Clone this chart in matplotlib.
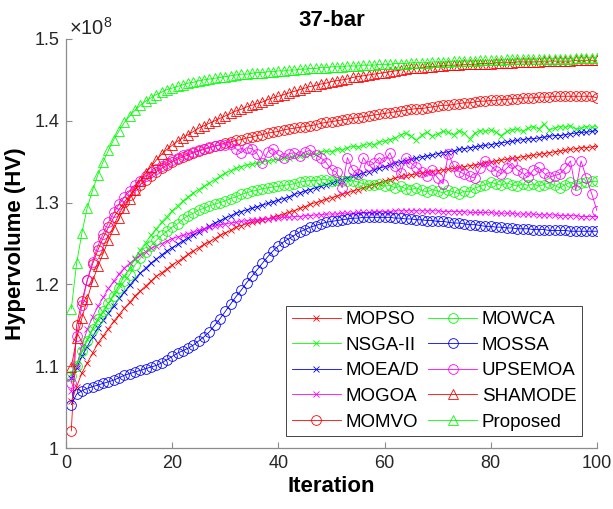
import matplotlib.pyplot as plt
from matplotlib.ticker import FuncFormatter
import numpy as np

plt.rcParams['font.family'] = ['Liberation Sans', 'DejaVu Sans']
plt.rcParams['mathtext.fontset'] = 'custom'
plt.rcParams['mathtext.rm'] = 'Liberation Sans'

# hypervolume per iteration, in units of 1e8
iteration = np.arange(1, 101)

mopso = [1.057, 1.075, 1.092, 1.104, 1.116, 1.128, 1.137, 1.146, 1.155, 1.163,
         1.171, 1.178, 1.186, 1.192, 1.198, 1.204, 1.210, 1.214, 1.219, 1.224,
         1.228, 1.232, 1.237, 1.241, 1.245, 1.249, 1.252, 1.256, 1.260, 1.263,
         1.266, 1.270, 1.272, 1.274, 1.276, 1.277, 1.279, 1.280, 1.282, 1.284,
         1.286, 1.288, 1.290, 1.293, 1.295, 1.298, 1.300, 1.302, 1.304, 1.306,
         1.308, 1.310, 1.312, 1.314, 1.316, 1.318, 1.320, 1.322, 1.324, 1.326,
         1.328, 1.330, 1.332, 1.333, 1.334, 1.335, 1.336, 1.337, 1.338, 1.339,
         1.340, 1.341, 1.342, 1.343, 1.344, 1.345, 1.346, 1.347, 1.349, 1.350,
         1.351, 1.352, 1.353, 1.354, 1.355, 1.356, 1.357, 1.358, 1.359, 1.360,
         1.361, 1.362, 1.363, 1.364, 1.365, 1.366, 1.367, 1.367, 1.368, 1.369]

nsga2 = [1.090, 1.103, 1.118, 1.133, 1.146, 1.157, 1.166, 1.177, 1.188, 1.199,
         1.210, 1.220, 1.232, 1.242, 1.251, 1.260, 1.268, 1.276, 1.283, 1.290,
         1.296, 1.302, 1.307, 1.312, 1.316, 1.320, 1.324, 1.328, 1.332, 1.336,
         1.339, 1.342, 1.344, 1.346, 1.347, 1.348, 1.350, 1.351, 1.352, 1.353,
         1.354, 1.355, 1.357, 1.357, 1.358, 1.360, 1.359, 1.362, 1.363, 1.362,
         1.366, 1.364, 1.367, 1.369, 1.368, 1.370, 1.372, 1.371, 1.374, 1.375,
         1.377, 1.379, 1.383, 1.385, 1.381, 1.376, 1.383, 1.386, 1.381, 1.384,
         1.387, 1.386, 1.383, 1.388, 1.385, 1.378, 1.385, 1.388, 1.387, 1.389,
         1.386, 1.382, 1.387, 1.389, 1.390, 1.387, 1.391, 1.393, 1.390, 1.396,
         1.389, 1.391, 1.393, 1.392, 1.394, 1.390, 1.391, 1.393, 1.392, 1.393]

moead = [1.085, 1.098, 1.112, 1.124, 1.136, 1.147, 1.156, 1.165, 1.174, 1.183,
         1.191, 1.199, 1.207, 1.214, 1.220, 1.226, 1.231, 1.236, 1.241, 1.245,
         1.249, 1.253, 1.257, 1.261, 1.264, 1.268, 1.271, 1.275, 1.278, 1.281,
         1.284, 1.287, 1.289, 1.291, 1.293, 1.295, 1.297, 1.299, 1.301, 1.303,
         1.305, 1.307, 1.310, 1.312, 1.314, 1.316, 1.318, 1.320, 1.322, 1.324,
         1.326, 1.328, 1.330, 1.332, 1.334, 1.336, 1.338, 1.340, 1.342, 1.344,
         1.346, 1.348, 1.350, 1.351, 1.353, 1.354, 1.356, 1.357, 1.358, 1.360,
         1.361, 1.362, 1.363, 1.365, 1.366, 1.367, 1.368, 1.369, 1.370, 1.371,
         1.372, 1.373, 1.374, 1.375, 1.376, 1.377, 1.378, 1.378, 1.379, 1.380,
         1.381, 1.382, 1.382, 1.383, 1.384, 1.385, 1.386, 1.386, 1.387, 1.388]

mogoa = [1.070, 1.100, 1.125, 1.145, 1.160, 1.173, 1.184, 1.195, 1.204, 1.213,
         1.220, 1.226, 1.231, 1.236, 1.240, 1.244, 1.247, 1.250, 1.253, 1.256,
         1.258, 1.260, 1.262, 1.264, 1.266, 1.268, 1.270, 1.271, 1.273, 1.274,
         1.275, 1.276, 1.277, 1.278, 1.279, 1.279, 1.280, 1.280, 1.281, 1.281,
         1.282, 1.282, 1.283, 1.283, 1.284, 1.284, 1.285, 1.285, 1.286, 1.286,
         1.286, 1.287, 1.287, 1.287, 1.288, 1.288, 1.288, 1.289, 1.289, 1.289,
         1.289, 1.290, 1.290, 1.290, 1.290, 1.290, 1.290, 1.290, 1.290, 1.290,
         1.289, 1.289, 1.289, 1.289, 1.289, 1.288, 1.288, 1.288, 1.288, 1.288,
         1.287, 1.287, 1.287, 1.287, 1.286, 1.286, 1.286, 1.286, 1.285, 1.285,
         1.285, 1.285, 1.284, 1.284, 1.284, 1.284, 1.283, 1.283, 1.283, 1.283]

momvo = [1.021, 1.150, 1.180, 1.205, 1.225, 1.242, 1.257, 1.270, 1.282, 1.292,
         1.301, 1.309, 1.316, 1.322, 1.328, 1.333, 1.338, 1.342, 1.346, 1.350,
         1.353, 1.356, 1.358, 1.361, 1.363, 1.365, 1.367, 1.369, 1.371, 1.373,
         1.374, 1.376, 1.377, 1.379, 1.380, 1.382, 1.383, 1.385, 1.386, 1.387,
         1.389, 1.390, 1.391, 1.392, 1.393, 1.394, 1.395, 1.397, 1.398, 1.399,
         1.400, 1.401, 1.402, 1.403, 1.404, 1.405, 1.406, 1.407, 1.408, 1.409,
         1.410, 1.411, 1.412, 1.413, 1.414, 1.415, 1.415, 1.416, 1.417, 1.418,
         1.419, 1.419, 1.420, 1.421, 1.422, 1.422, 1.423, 1.424, 1.424, 1.425,
         1.425, 1.426, 1.426, 1.427, 1.427, 1.428, 1.428, 1.428, 1.429, 1.429,
         1.429, 1.430, 1.430, 1.430, 1.430, 1.430, 1.430, 1.430, 1.430, 1.428]

mowca = [1.088, 1.100, 1.118, 1.131, 1.145, 1.158, 1.168, 1.177, 1.186, 1.195,
         1.204, 1.212, 1.224, 1.232, 1.240, 1.247, 1.254, 1.260, 1.265, 1.270,
         1.274, 1.280, 1.284, 1.287, 1.291, 1.293, 1.296, 1.298, 1.300, 1.302,
         1.305, 1.307, 1.310, 1.312, 1.314, 1.315, 1.317, 1.318, 1.319, 1.320,
         1.321, 1.322, 1.323, 1.325, 1.326, 1.327, 1.327, 1.328, 1.328, 1.327,
         1.328, 1.327, 1.326, 1.327, 1.325, 1.323, 1.322, 1.321, 1.323, 1.320,
         1.321, 1.318, 1.320, 1.317, 1.316, 1.318, 1.315, 1.313, 1.316, 1.314,
         1.312, 1.315, 1.313, 1.311, 1.314, 1.313, 1.318, 1.320, 1.322, 1.325,
         1.323, 1.321, 1.324, 1.322, 1.320, 1.323, 1.321, 1.323, 1.320, 1.322,
         1.324, 1.321, 1.318, 1.322, 1.325, 1.322, 1.324, 1.325, 1.326, 1.326]

mossa = [1.053, 1.066, 1.070, 1.073, 1.075, 1.077, 1.079, 1.081, 1.083, 1.086,
         1.089, 1.091, 1.093, 1.095, 1.097, 1.099, 1.101, 1.104, 1.108, 1.112,
         1.116, 1.119, 1.122, 1.126, 1.131, 1.136, 1.142, 1.150, 1.158, 1.167,
         1.176, 1.185, 1.193, 1.202, 1.210, 1.218, 1.226, 1.234, 1.241, 1.247,
         1.252, 1.256, 1.260, 1.264, 1.267, 1.270, 1.272, 1.274, 1.276, 1.277,
         1.278, 1.279, 1.280, 1.281, 1.281, 1.282, 1.282, 1.282, 1.282, 1.282,
         1.282, 1.281, 1.281, 1.280, 1.280, 1.279, 1.279, 1.278, 1.278, 1.277,
         1.277, 1.276, 1.275, 1.275, 1.274, 1.273, 1.273, 1.272, 1.271, 1.271,
         1.270, 1.270, 1.269, 1.269, 1.268, 1.268, 1.268, 1.267, 1.267, 1.267,
         1.266, 1.266, 1.266, 1.266, 1.265, 1.265, 1.265, 1.265, 1.265, 1.265]

upsemoa = [1.079, 1.137, 1.175, 1.205, 1.228, 1.247, 1.262, 1.276, 1.288, 1.298,
           1.307, 1.314, 1.321, 1.327, 1.332, 1.337, 1.341, 1.345, 1.349, 1.352,
           1.355, 1.358, 1.360, 1.362, 1.364, 1.366, 1.368, 1.369, 1.370, 1.371,
           1.372, 1.366, 1.361, 1.367, 1.366, 1.360, 1.348, 1.362, 1.366, 1.358,
           1.355, 1.360, 1.361, 1.357, 1.362, 1.364, 1.358, 1.355, 1.349, 1.340,
           1.337, 1.318, 1.355, 1.340, 1.335, 1.355, 1.345, 1.348, 1.355, 1.350,
           1.361, 1.345, 1.336, 1.355, 1.348, 1.343, 1.338, 1.332, 1.340, 1.330,
           1.323, 1.360, 1.345, 1.338, 1.335, 1.332, 1.330, 1.342, 1.351, 1.345,
           1.339, 1.335, 1.342, 1.348, 1.340, 1.336, 1.331, 1.340, 1.343, 1.336,
           1.331, 1.333, 1.335, 1.342, 1.351, 1.315, 1.351, 1.330, 1.311, 1.290]

shamode = [1.099, 1.134, 1.159, 1.182, 1.204, 1.222, 1.238, 1.254, 1.268, 1.281,
           1.293, 1.305, 1.316, 1.327, 1.336, 1.344, 1.352, 1.359, 1.365, 1.370,
           1.375, 1.379, 1.383, 1.387, 1.391, 1.394, 1.397, 1.400, 1.403, 1.406,
           1.409, 1.412, 1.414, 1.417, 1.419, 1.421, 1.423, 1.426, 1.428, 1.430,
           1.432, 1.434, 1.436, 1.438, 1.440, 1.442, 1.443, 1.445, 1.446, 1.448,
           1.449, 1.450, 1.451, 1.453, 1.454, 1.455, 1.456, 1.457, 1.458, 1.459,
           1.460, 1.461, 1.462, 1.463, 1.464, 1.464, 1.465, 1.466, 1.466, 1.467,
           1.467, 1.468, 1.468, 1.468, 1.469, 1.469, 1.469, 1.470, 1.470, 1.470,
           1.471, 1.471, 1.471, 1.471, 1.472, 1.472, 1.472, 1.472, 1.472, 1.473,
           1.473, 1.473, 1.473, 1.473, 1.473, 1.474, 1.474, 1.474, 1.474, 1.474]

proposed = [1.170, 1.226, 1.263, 1.294, 1.315, 1.334, 1.350, 1.364, 1.377, 1.388,
            1.398, 1.406, 1.413, 1.419, 1.424, 1.428, 1.432, 1.435, 1.438, 1.440,
            1.442, 1.444, 1.446, 1.447, 1.449, 1.450, 1.451, 1.452, 1.453, 1.454,
            1.455, 1.456, 1.457, 1.457, 1.458, 1.459, 1.459, 1.460, 1.460, 1.461,
            1.461, 1.462, 1.462, 1.463, 1.463, 1.464, 1.464, 1.465, 1.465, 1.466,
            1.466, 1.466, 1.467, 1.467, 1.467, 1.468, 1.468, 1.468, 1.469, 1.469,
            1.469, 1.470, 1.470, 1.470, 1.471, 1.471, 1.471, 1.471, 1.472, 1.472,
            1.472, 1.472, 1.473, 1.473, 1.473, 1.473, 1.473, 1.474, 1.474, 1.474,
            1.474, 1.474, 1.475, 1.475, 1.475, 1.475, 1.475, 1.475, 1.476, 1.476,
            1.476, 1.476, 1.476, 1.476, 1.476, 1.477, 1.477, 1.477, 1.477, 1.477]

names = ['MOPSO', 'NSGA-II', 'MOEA/D', 'MOGOA', 'MOMVO',
         'MOWCA', 'MOSSA', 'UPSEMOA', 'SHAMODE', 'Proposed']
curves = [mopso, nsga2, moead, mogoa, momvo, mowca, mossa, upsemoa, shamode, proposed]
colors = ['#ff0000', '#00ff00', '#0000ff', '#ff00ff', '#ff0000',
          '#00ff00', '#0000ff', '#ff00ff', '#ff0000', '#00ff00']
markers = ['x', 'x', 'x', 'x', 'o', 'o', 'o', 'o', '^', '^']
sizes = [5, 5, 5, 5, 7, 7, 7, 7, 7, 7]

fig = plt.figure(figsize=(6.13, 5.09), dpi=100)
ax = fig.add_axes([0.1077, 0.1198, 0.8662, 0.8036])

for name, hv, c, m, s in zip(names, curves, colors, markers, sizes):
    ax.plot(iteration, hv, color=c, marker=m, markersize=s, markerfacecolor='none',
            markeredgewidth=0.6, linewidth=0.6, label=name)

ax.set_xlim(0, 100)
ax.set_ylim(1, 1.5)
ax.set_xticks([0, 20, 40, 60, 80, 100])
ax.set_yticks([1, 1.1, 1.2, 1.3, 1.4, 1.5])
ax.yaxis.set_major_formatter(FuncFormatter(lambda v, p: '%g' % round(v, 2)))

# matlab-like axes: no box, grey axis lines, inward ticks
for side in ['top', 'right']:
    ax.spines[side].set_visible(False)
for side in ['left', 'bottom']:
    ax.spines[side].set_color('#8c8c8c')
    ax.spines[side].set_linewidth(0.9)
ax.tick_params(direction='in', length=4, width=0.8, color='#8c8c8c',
               labelsize=13, labelcolor='#262626', pad=5)

ax.text(0.005, 1.0, r'$\times10^{8}$', transform=ax.transAxes,
        fontsize=14.5, color='#262626', ha='left', va='bottom')

ax.set_title('37-bar', fontsize=16, fontweight='bold', pad=9)
ax.set_xlabel('Iteration', fontsize=16, fontweight='bold', labelpad=3)
ax.set_ylabel('Hypervolume (HV)', fontsize=16, fontweight='bold', labelpad=6)

leg = ax.legend(ncol=2, loc='lower right', bbox_to_anchor=(0.972, 0.029),
                borderaxespad=0, fontsize=13.5, fancybox=False, framealpha=1,
                edgecolor='#262626', handlelength=2.6, handletextpad=0.25,
                columnspacing=0.5, labelspacing=0.45, borderpad=0.3)
leg.get_frame().set_linewidth(0.6)

fig.savefig('out.png', dpi=100)
